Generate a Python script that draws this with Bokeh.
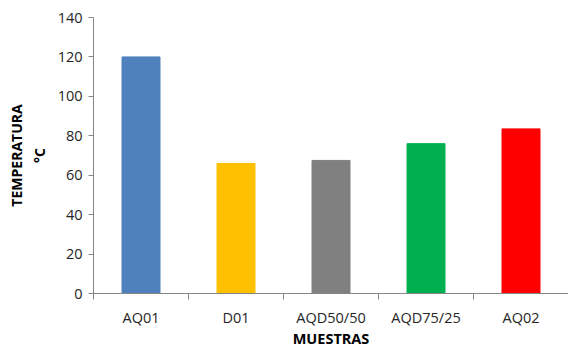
from bokeh.plotting import figure
from bokeh.models import ColumnDataSource, FixedTicker, Range1d
from bokeh.embed import file_html
from bokeh.resources import INLINE

# Sample names and measured temperatures (°C)
muestras = ["AQ01", "D01", "AQD50/50", "AQD75/25", "AQ02"]
temperatura = [120, 66, 67.5, 76, 83.5]
colores = ["#4F81BD", "#FFC000", "#808080", "#00B050", "#FF0000"]
y_ticks = [0, 20, 40, 60, 80, 100, 120, 140]

centros = [i + 0.5 for i in range(len(muestras))]
bordes = list(range(len(muestras) + 1))

source = ColumnDataSource(dict(x=centros, top=temperatura, color=colores, name=muestras))

p = figure(width=568, height=350, output_backend="svg", toolbar_location=None,
           x_range=Range1d(0, len(muestras)), y_range=Range1d(0, 140),
           min_border_left=93, min_border_top=17, min_border_bottom=57,
           min_border_right=0)
p.outline_line_color = None
p.xgrid.visible = False
p.ygrid.visible = False
p.background_fill_color = "white"
p.border_fill_color = "white"

p.vbar(x="x", top="top", width=0.4, bottom=0, color="color", source=source)

font = "Open Sans"
axis_color = "#868686"
text_color = "#262626"

# X axis: tick marks on category boundaries, labels centred in each category
xa = p.xaxis[0]
xa.ticker = FixedTicker(ticks=centros, minor_ticks=bordes)
xa.major_label_overrides = {c: n for c, n in zip(centros, muestras)}
xa.major_tick_out = 0
xa.major_tick_in = 0
xa.minor_tick_out = 6
xa.minor_tick_in = 0
xa.minor_tick_line_color = axis_color
xa.axis_line_color = axis_color
xa.major_label_standoff = 8
xa.major_label_text_font = font
xa.major_label_text_font_size = "14.5px"
xa.major_label_text_color = text_color
xa.axis_label = "MUESTRAS"
xa.axis_label_text_font = font
xa.axis_label_text_font_style = "bold"
xa.axis_label_text_font_size = "14.5px"
xa.axis_label_text_color = "#000000"
xa.axis_label_standoff = -1

ya = p.yaxis[0]
ya.ticker = FixedTicker(ticks=y_ticks)
ya.minor_tick_line_color = None
ya.major_tick_out = 5
ya.major_tick_in = 0
ya.major_tick_line_color = axis_color
ya.axis_line_color = axis_color
ya.major_label_standoff = 6
ya.major_label_text_font = font
ya.major_label_text_font_size = "14.5px"
ya.major_label_text_color = text_color
ya.axis_label = "TEMPERATURA\n°C"
ya.axis_label_text_font = font
ya.axis_label_text_font_style = "bold"
ya.axis_label_text_font_size = "14px"
ya.axis_label_text_color = "#000000"
ya.axis_label_standoff = 6

open("out.html", "w").write(file_html(p, INLINE))
